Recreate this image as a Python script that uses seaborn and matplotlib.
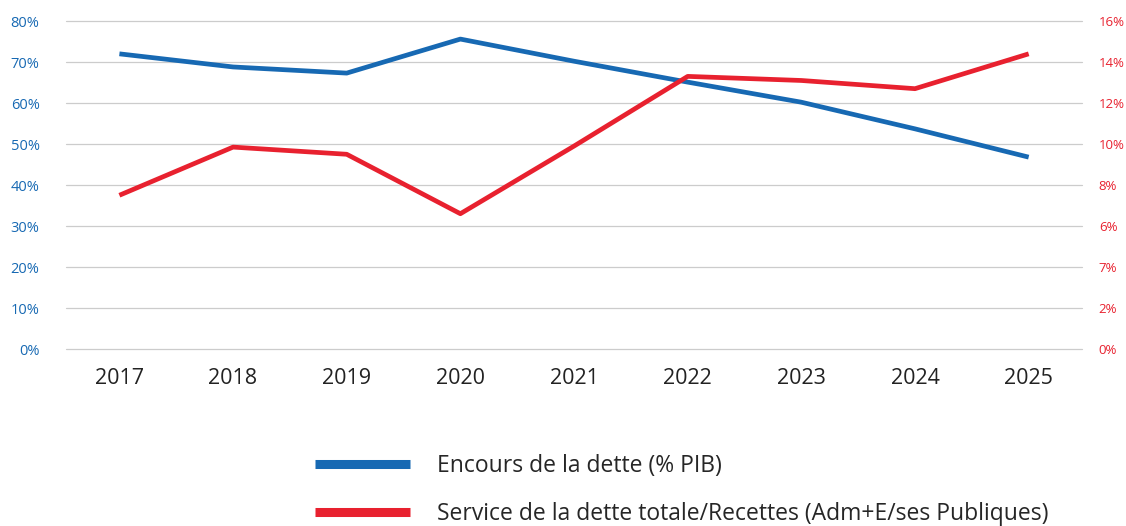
import pandas as pd
import matplotlib.pyplot as plt
import seaborn as sns
from matplotlib.lines import Line2D

years = [2017, 2018, 2019, 2020, 2021, 2022, 2023, 2024, 2025]
encours = [72.0, 68.8, 67.3, 75.6, 70.2, 65.1, 60.2, 53.7, 46.8]
service = [7.5, 9.85, 9.5, 6.6, 9.9, 13.3, 13.1, 12.7, 14.4]

left_ticks = [0, 10, 20, 30, 40, 50, 60, 70, 80]
left_labels = ["0%", "10%", "20%", "30%", "40%", "50%", "60%", "70%", "80%"]
right_ticks = [0, 2, 4, 6, 8, 10, 12, 14, 16]
right_labels = ["0%", "2%", "7%", "6%", "8%", "10%", "12%", "14%", "16%"]

label_encours = "Encours de la dette (% PIB)"
label_service = "Service de la dette totale/Recettes (Adm+E/ses Publiques)"

blue = "#1769b3"
red = "#e8212f"

df = pd.DataFrame({"annee": years, "encours": encours, "service": service})

sns.set_style("white")
plt.rcParams["font.family"] = ["Open Sans", "DejaVu Sans"]

fig = plt.figure(figsize=(11.26, 5.26), dpi=100)
ax = fig.add_axes([0.0586, 0.3365, 0.9024, 0.6235])
ax2 = ax.twinx()

sns.lineplot(data=df, x="annee", y="encours", ax=ax, color=blue, linewidth=3.4,
             solid_capstyle="butt", clip_on=False)
sns.lineplot(data=df, x="annee", y="service", ax=ax2, color=red, linewidth=3.4,
             solid_capstyle="butt", clip_on=False)

ax.set_xlim(2016.53, 2025.47)
ax.set_ylim(0, 80)
ax2.set_ylim(0, 16)

ax.set_yticks(left_ticks)
ax.set_yticklabels(left_labels, color=blue, fontsize=10.5)
ax2.set_yticks(right_ticks)
ax2.set_yticklabels(right_labels, color=red, fontsize=9.5)
ax.set_xticks(years)
ax.set_xticklabels([str(y) for y in years], fontsize=15.5, color="#222222")

ax.grid(axis="y", color="#cccccc", linewidth=0.9)
for line in ax.get_ygridlines():
    line.set_clip_on(False)
ax.tick_params(axis="y", length=0, pad=19)
ax2.tick_params(axis="y", length=0, pad=12)
ax.tick_params(axis="x", length=0, pad=14)

for a in (ax, ax2):
    a.set_xlabel("")
    a.set_ylabel("")
    for s in a.spines.values():
        s.set_visible(False)

handles = [Line2D([], [], color=blue, linewidth=6.5, solid_capstyle="butt"),
           Line2D([], [], color=red, linewidth=6.5, solid_capstyle="butt")]
fig.legend(handles, [label_encours, label_service], loc="upper left",
           bbox_to_anchor=(0.261, 0.177), frameon=False, fontsize=16.5,
           handlelength=4.15, handletextpad=1.2, labelspacing=1.05)

fig.savefig("out.png", dpi=100)
